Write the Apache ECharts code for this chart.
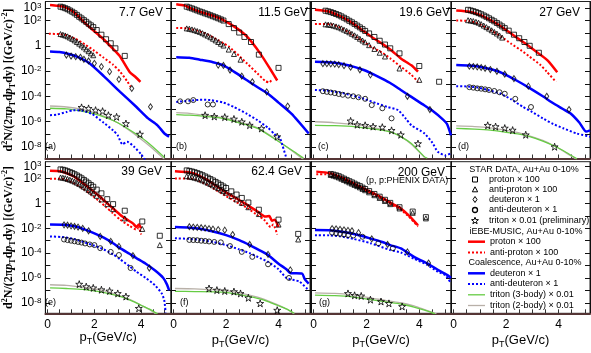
<!DOCTYPE html>
<html>
<head>
<meta charset="utf-8">
<script src="https://cdn.jsdelivr.net/npm/echarts@6.0.0/dist/echarts.min.js"></script>
<style>
  html, body { margin: 0; padding: 0; background: #fff; }
  #chart { width: 591px; height: 353px; }
</style>
</head>
<body>
<div id="chart"></div>
<script>
  // panels (a)..(g), one per collision energy
  const energies = ['7.7 GeV', '11.5 GeV', '19.6 GeV', '27 GeV', '39 GeV', '62.4 GeV', '200 GeV'];
  const panelTags = ['(a)', '(b)', '(c)', '(d)', '(e)', '(f)', '(g)'];
  const xLabelValues = [0, 2, 4];
  // y axis is logarithmic: every point below is [pT, log10(yield)]
  const yLabelExponents = [-8, -6, -4, -2, 0, 2, 3];

  // STAR data
  const protonData = [
    [[0.55,3.11],[0.65,3.06],[0.75,2.99],[0.85,2.91],[0.95,2.81],[1.05,2.71],[1.15,2.59],[1.25,2.46],[1.35,2.31],[1.45,2.18],[1.55,2.04],[1.65,1.91],[1.75,1.76],[1.85,1.63],[1.95,1.49],[2.1,1.26],[2.3,0.89],[2.5,0.53],[2.7,0.21],[2.9,-0.19],[3.3,-0.79]],
    [[0.5,3.11],[0.6,3.04],[0.7,2.97],[0.8,2.89],[0.9,2.81],[1.0,2.73],[1.1,2.66],[1.2,2.58],[1.3,2.51],[1.4,2.43],[1.5,2.35],[1.6,2.27],[1.7,2.19],[1.8,2.1],[1.9,2.01],[2.1,1.73],[2.3,1.41],[2.5,1.06],[2.7,0.71],[2.95,0.31],[3.25,-0.69],[4.0,-1.74]],
    [[0.45,2.79],[0.55,2.74],[0.65,2.68],[0.75,2.61],[0.85,2.53],[0.95,2.44],[1.05,2.34],[1.15,2.23],[1.25,2.11],[1.35,1.99],[1.45,1.87],[1.55,1.74],[1.65,1.61],[1.75,1.47],[1.85,1.33],[1.95,1.19],[2.1,0.99],[2.3,0.71],[2.5,0.41],[2.7,0.11],[2.9,-0.19],[3.25,-0.59],[4.0,-1.59],[4.75,-2.84]],
    [[0.55,2.86],[0.65,2.81],[0.75,2.75],[0.85,2.68],[0.95,2.6],[1.05,2.51],[1.15,2.41],[1.25,2.31],[1.35,2.19],[1.45,2.07],[1.55,1.95],[1.65,1.82],[1.75,1.69],[1.85,1.55],[1.95,1.41],[2.1,1.21],[2.3,0.89],[2.5,0.61],[2.7,0.31],[2.9,0.01],[3.25,-0.54]],
    [[0.55,2.75],[0.65,2.72],[0.75,2.67],[0.85,2.6],[0.95,2.53],[1.05,2.45],[1.15,2.36],[1.25,2.26],[1.35,2.15],[1.45,2.03],[1.55,1.9],[1.65,1.77],[1.75,1.63],[1.85,1.49],[1.95,1.35],[2.1,1.12],[2.3,0.82],[2.55,0.35],[2.8,-0.05],[3.3,-0.58],[4.05,-1.45],[4.8,-2.6]],
    [[0.5,2.67],[0.6,2.63],[0.7,2.58],[0.8,2.52],[0.9,2.45],[1.0,2.37],[1.1,2.28],[1.2,2.18],[1.3,2.08],[1.4,1.97],[1.5,1.86],[1.6,1.74],[1.7,1.62],[1.8,1.5],[1.9,1.37],[2.0,1.25],[2.2,0.98],[2.4,0.72],[2.6,0.45],[2.85,0.08],[3.25,-0.5],[4.0,-1.3],[4.75,-2.45]],
    [[0.65,2.38],[0.75,2.33],[0.85,2.27],[0.95,2.2],[1.05,2.1],[1.15,2.0],[1.25,1.9],[1.35,1.8],[1.45,1.7],[1.55,1.6],[1.65,1.5],[1.75,1.4],[1.85,1.28],[1.95,1.17],[2.1,1.0],[2.3,0.77],[2.5,0.55],[2.7,0.3],[2.9,0.05],[3.25,-0.3],[3.75,-0.65],[4.25,-1.1]]
  ];
  const antiProtonData = [
    [[0.55,0.94],[0.65,0.89],[0.75,0.83],[0.85,0.76],[0.95,0.66],[1.05,0.56],[1.15,0.44],[1.25,0.31],[1.35,0.18],[1.45,0.04],[1.55,-0.11],[1.65,-0.27],[1.75,-0.42],[1.85,-0.59],[1.95,-0.74]],
    [[0.5,1.39],[0.6,1.36],[0.7,1.31],[0.8,1.25],[0.9,1.18],[1.0,1.11],[1.1,1.01],[1.2,0.91],[1.3,0.81],[1.4,0.69],[1.5,0.57],[1.6,0.44],[1.7,0.31],[1.8,0.17],[1.9,0.03],[2.1,-0.29],[2.3,-0.64],[2.55,-1.09]],
    [[0.45,1.71],[0.55,1.69],[0.65,1.66],[0.75,1.61],[0.85,1.55],[0.95,1.48],[1.05,1.39],[1.15,1.29],[1.25,1.19],[1.35,1.08],[1.45,0.96],[1.55,0.84],[1.65,0.71],[1.75,0.57],[1.85,0.43],[1.95,0.29],[2.1,0.06],[2.3,-0.24],[2.5,-0.54],[2.7,-0.84],[3.25,-1.79],[4.0,-2.69]],
    [[0.55,2.04],[0.65,2.01],[0.75,1.97],[0.85,1.91],[0.95,1.84],[1.05,1.73],[1.15,1.61],[1.25,1.49],[1.35,1.37],[1.45,1.24],[1.55,1.11],[1.65,0.98],[1.75,0.83],[1.85,0.66]],
    [[0.55,2.1],[0.65,2.08],[0.75,2.04],[0.85,1.98],[0.95,1.92],[1.05,1.85],[1.15,1.77],[1.25,1.68],[1.35,1.58],[1.45,1.47],[1.55,1.35],[1.65,1.23],[1.75,1.1],[1.85,0.97],[1.95,0.83],[2.1,0.62],[2.3,0.33],[2.55,-0.05],[2.8,-0.45],[3.3,-1.2],[4.05,-2.05],[4.8,-3.35]],
    [[0.5,2.2],[0.6,2.17],[0.7,2.13],[0.8,2.08],[0.9,2.02],[1.0,1.95],[1.1,1.87],[1.2,1.78],[1.3,1.68],[1.4,1.58],[1.5,1.47],[1.6,1.36],[1.7,1.24],[1.8,1.12],[1.9,1.0],[2.0,0.87],[2.2,0.6],[2.4,0.33],[2.6,0.05],[2.85,-0.3],[3.25,-0.85],[4.0,-1.7],[4.75,-2.9]],
    [[0.65,2.3],[0.75,2.25],[0.85,2.18],[0.95,2.1],[1.05,2.0],[1.15,1.9],[1.25,1.8],[1.35,1.7],[1.45,1.6],[1.55,1.5],[1.65,1.4],[1.75,1.3],[1.85,1.18],[1.95,1.07],[2.1,0.9],[2.3,0.67],[2.5,0.45],[2.7,0.2],[2.9,-0.05],[3.25,-0.4],[3.75,-0.75],[4.25,-1.2]]
  ];
  const deuteronData = [
    [[0.8,-0.72],[1.0,-0.8],[1.2,-0.85],[1.4,-0.9],[1.55,-1.06],[1.75,-1.19],[2.0,-1.38],[2.3,-1.64],[2.65,-2.04],[3.05,-2.65],[3.6,-3.37],[4.4,-4.82]],
    [[1.7,-1.52],[1.9,-1.55],[2.15,-1.91],[2.6,-2.39],[3.0,-2.84],[3.55,-3.64],[4.35,-4.77]],
    [[0.35,-1.41],[0.5,-1.41],[0.65,-1.42],[0.8,-1.44],[0.95,-1.49],[1.15,-1.57],[1.4,-1.69],[1.75,-1.89],[2.15,-2.29],[3.55,-3.99],[4.4,-5.04]],
    [[0.6,-1.61],[0.75,-1.63],[0.9,-1.66],[1.05,-1.71],[1.2,-1.77],[1.4,-1.87],[1.65,-2.01],[1.95,-2.24],[2.3,-2.59],[2.85,-3.19],[3.55,-3.99],[4.4,-5.04]],
    [[0.7,-1.72],[0.85,-1.75],[1.0,-1.8],[1.15,-1.85],[1.3,-1.9],[1.5,-2.0],[1.75,-2.2],[2.25,-2.65],[2.7,-3.05],[3.05,-3.45],[3.65,-4.2],[4.35,-5.2]],
    [[0.6,-1.87],[0.75,-1.9],[0.9,-1.92],[1.05,-1.95],[1.2,-1.98],[1.35,-2.02],[1.5,-2.06],[1.7,-2.1],[1.95,-2.15],[2.25,-2.5],[2.9,-3.3],[3.6,-4.1],[4.45,-5.35]],
    [[0.7,-2.02],[0.85,-2.04],[1.0,-2.08],[1.15,-2.12],[1.3,-2.17],[1.45,-2.2],[1.7,-2.35],[2.2,-2.85],[2.8,-3.3],[3.55,-3.9],[4.35,-4.8]]
  ];
  const antiDeuteronData = [
    [],
    [[0.25,-4.39],[0.55,-4.39],[0.75,-4.29],[1.3,-4.64],[1.5,-4.64]],
    [[0.35,-3.59],[0.5,-3.64],[0.65,-3.69],[0.8,-3.74],[0.95,-3.81],[1.1,-3.87],[1.3,-3.94],[1.5,-3.99],[1.7,-4.07],[1.95,-4.19],[2.2,-4.69],[2.6,-4.94],[2.95,-5.74]],
    [[0.6,-3.27],[0.75,-3.31],[0.9,-3.36],[1.05,-3.39],[1.2,-3.44],[1.35,-3.49],[1.55,-3.57],[1.75,-3.67],[1.95,-3.79],[2.35,-4.19],[2.95,-4.84]],
    [[0.7,-2.9],[0.85,-2.95],[1.0,-3.0],[1.15,-3.05],[1.3,-3.1],[1.45,-3.15],[1.6,-3.22],[1.8,-3.3],[2.0,-3.35],[2.25,-3.6],[2.7,-3.9],[3.05,-4.15],[3.55,-5.2]],
    [[0.6,-2.94],[0.75,-2.95],[0.9,-2.96],[1.05,-3.0],[1.2,-3.02],[1.35,-3.06],[1.55,-3.1],[1.8,-3.13],[2.15,-3.43],[2.6,-3.9],[3.0,-4.3],[3.6,-4.9],[4.4,-6.0]],
    [[0.7,-2.35],[0.85,-2.4],[1.0,-2.45],[1.15,-2.5],[1.3,-2.55],[1.5,-2.58],[1.85,-2.68],[2.45,-3.2],[3.0,-3.6]]
  ];
  const tritonData = [
    [[1.45,-4.87],[1.75,-4.95],[2.05,-5.09],[2.35,-5.17],[2.6,-5.49],[2.95,-5.62],[3.35,-6.15],[3.95,-6.99]],
    [[1.2,-5.49],[1.55,-5.59],[1.95,-5.64],[2.3,-5.79],[2.6,-6.01],[2.9,-6.28],[3.35,-6.54],[3.95,-7.19]],
    [[1.4,-5.94],[1.65,-6.24],[1.95,-6.29],[2.25,-6.39],[2.6,-6.44],[2.95,-6.69],[3.3,-7.04],[3.95,-7.74]],
    [[1.3,-6.29],[1.6,-6.39],[1.95,-6.51],[2.25,-6.67],[2.75,-7.04],[3.85,-7.99]],
    [[1.35,-6.5],[1.65,-6.7],[1.95,-6.8],[2.3,-6.95],[2.65,-7.05],[3.0,-7.25],[3.35,-7.5],[3.9,-8.45]],
    [[1.35,-6.85],[1.65,-6.98],[1.95,-7.05],[2.3,-7.1],[2.55,-7.25],[2.85,-7.6],[3.3,-8.05],[3.95,-8.6]],
    [[1.3,-7.25],[1.55,-7.4],[1.8,-7.45],[2.15,-7.75],[2.55,-7.9],[2.85,-8.05],[3.35,-8.3]]
  ];

  // iEBE-MUSIC + coalescence curves
  const protonModel = [
    [[0.1,3.24],[0.4,3.18],[0.75,3.06],[1.1,2.71],[1.6,1.81],[2.0,1.16],[2.4,0.51],[2.8,-0.24],[3.1,-0.84],[3.5,-2.04],[3.75,-2.44],[3.97,-2.84]],
    [[0.1,3.31],[0.4,3.21],[0.65,2.98],[1.0,2.71],[1.5,2.39],[1.9,2.05],[2.4,1.41],[2.8,0.73],[3.3,-0.59],[3.7,-1.89],[3.95,-2.74]],
    [[0.05,2.86],[0.6,2.71],[1.0,2.36],[1.4,1.91],[1.8,1.31],[2.2,0.71],[2.6,0.16],[2.9,-0.29],[3.3,-0.99],[3.7,-1.54],[3.95,-2.04]],
    [[0.1,2.81],[0.6,2.71],[1.0,2.46],[1.4,2.05],[1.8,1.56],[2.2,0.96],[2.6,0.38],[2.9,-0.06],[3.3,-0.69],[3.6,-1.19],[3.95,-2.09]],
    [[0.1,2.65],[0.55,2.6],[1.1,2.2],[1.5,1.65],[1.8,1.22],[2.2,0.6],[2.5,0.1],[2.8,-0.4],[3.1,-0.9],[3.4,-1.3],[3.65,-1.6],[3.8,-1.9],[3.9,-1.7],[4.0,-2.0]],
    [[0.05,2.6],[0.7,2.47],[1.25,1.95],[1.6,1.45],[2.0,0.9],[2.4,0.4],[2.8,-0.1],[3.2,-0.65],[3.5,-1.05],[3.65,-1.0],[3.75,-1.4],[3.85,-1.3],[4.0,-1.9]],
    [[0.1,2.57],[0.6,2.45],[1.0,2.15],[1.4,1.75],[1.8,1.3],[2.2,0.9],[2.6,0.45],[3.0,-0.05],[3.3,-0.4],[3.6,-0.95],[3.95,-1.75]]
  ];
  const antiProtonModel = [
    [[0.05,0.96],[0.5,0.94],[0.8,0.86],[1.2,0.56],[1.6,0.11],[2.0,-0.39],[2.4,-0.94],[2.8,-1.49],[3.1,-2.04],[3.4,-2.79],[3.55,-3.24]],
    [[0.1,1.43],[0.5,1.39],[0.9,1.21],[1.3,0.91],[1.7,0.46],[1.9,0.21],[2.1,-0.04],[2.5,-0.79],[2.8,-1.39],[3.2,-2.19],[3.5,-2.79],[3.65,-2.89],[3.75,-2.64]],
    [[0.05,1.74],[0.6,1.73],[1.0,1.46],[1.4,0.99],[1.8,0.46],[2.2,-0.09],[2.6,-0.54],[2.9,-0.99],[3.3,-1.64],[3.7,-2.29],[3.95,-2.84]],
    [[0.1,2.01],[0.6,1.97],[1.0,1.71],[1.4,1.26],[1.8,0.76],[2.2,0.16],[2.6,-0.39],[2.9,-0.86],[3.3,-1.49],[3.55,-2.04],[3.9,-2.84]],
    [[0.1,2.0],[0.55,2.0],[1.1,1.65],[1.5,1.2],[1.8,0.8],[2.2,0.2],[2.5,-0.3],[2.8,-0.8],[3.1,-1.3],[3.5,-1.8],[3.8,-2.1],[3.9,-1.95],[4.0,-2.5]],
    [[0.05,2.02],[0.7,2.0],[1.25,1.55],[1.6,1.1],[2.0,0.6],[2.4,0.1],[2.8,-0.35],[3.2,-0.95],[3.45,-1.3],[3.7,-1.9],[3.8,-1.7],[3.95,-2.5]],
    [[0.1,2.35],[0.6,2.35],[1.0,2.05],[1.4,1.65],[1.8,1.2],[2.2,0.8],[2.6,0.35],[3.0,-0.15],[3.3,-0.5],[3.6,-1.05],[3.95,-1.85]]
  ];
  const deuteronModel = [
    [[0.1,-0.44],[0.5,-0.49],[0.9,-0.64],[1.3,-0.89],[1.8,-1.39],[2.4,-2.39],[3.1,-3.64],[3.8,-4.84],[4.3,-5.74],[4.7,-6.29],[5.0,-6.94],[5.2,-7.19]],
    [[0.1,-0.89],[0.6,-0.94],[1.0,-1.09],[1.5,-1.29],[1.9,-1.54],[2.3,-2.04],[2.7,-2.59],[3.1,-3.14],[3.6,-3.79],[4.0,-4.49],[4.5,-5.39],[5.15,-6.94]],
    [[0.05,-1.26],[0.5,-1.29],[1.0,-1.39],[1.5,-1.64],[1.9,-1.91],[2.4,-2.39],[2.9,-2.94],[3.3,-3.49],[3.7,-4.04],[4.1,-4.59],[4.5,-5.14],[4.9,-5.84],[5.05,-6.19],[5.2,-7.09]],
    [[0.1,-1.51],[0.6,-1.55],[1.0,-1.65],[1.5,-1.89],[1.9,-2.19],[2.4,-2.74],[2.9,-3.34],[3.4,-3.99],[3.8,-4.54],[4.2,-5.04],[4.45,-5.34],[4.8,-6.09],[5.05,-6.79],[5.2,-6.69]],
    [[0.1,-1.7],[0.7,-1.72],[1.2,-1.85],[1.6,-2.1],[2.0,-2.4],[2.4,-2.75],[2.8,-3.2],[3.1,-3.6],[3.5,-4.05],[3.8,-4.4],[4.2,-4.85],[4.6,-5.4],[4.95,-6.0],[5.1,-6.5],[5.2,-7.0]],
    [[0.05,-1.9],[0.6,-1.95],[1.0,-2.03],[1.5,-2.25],[2.0,-2.55],[2.5,-2.95],[2.9,-3.35],[3.3,-3.8],[3.6,-4.15],[4.0,-4.85],[4.3,-5.3],[4.45,-5.6],[4.9,-5.65],[5.0,-6.1],[5.15,-6.45]],
    [[0.05,-2.14],[0.6,-2.15],[1.0,-2.25],[1.4,-2.4],[1.8,-2.6],[2.2,-2.85],[2.6,-3.1],[2.9,-3.35],[3.3,-3.62],[3.8,-4.3],[4.3,-4.82],[4.7,-5.35],[5.05,-5.75],[5.2,-6.0]]
  ];
  const antiDeuteronModel = [
    [[0.1,-5.49],[0.4,-5.44],[0.8,-5.24],[1.1,-5.09],[1.5,-5.14],[1.9,-5.39],[2.4,-6.09],[2.8,-6.69],[3.0,-7.09],[3.2,-7.79],[3.4,-7.59],[3.7,-7.99],[4.0,-8.59],[4.2,-9.09]],
    [[0.1,-4.44],[0.6,-4.34],[1.0,-4.27],[1.4,-4.29],[1.9,-4.49],[2.3,-4.84],[2.8,-5.39],[3.2,-5.89],[3.6,-6.49],[3.85,-6.99],[4.05,-7.29],[4.15,-7.89],[4.3,-8.89]],
    [[0.05,-3.49],[0.5,-3.54],[1.0,-3.69],[1.4,-3.89],[1.9,-4.19],[2.4,-4.56],[2.8,-4.84],[3.2,-5.09],[3.5,-5.79],[3.7,-6.29],[4.2,-6.94],[4.5,-7.69],[4.7,-8.39],[5.0,-8.69],[5.2,-8.49]],
    [[0.1,-3.19],[0.5,-3.21],[0.9,-3.29],[1.3,-3.49],[1.8,-3.79],[2.2,-4.24],[2.65,-4.84],[3.0,-5.24],[3.4,-5.74],[3.8,-6.19],[4.2,-6.54],[4.7,-6.94],[5.2,-7.19]],
    [[0.1,-2.65],[0.6,-2.7],[1.1,-2.85],[1.6,-3.15],[2.0,-3.4],[2.4,-3.7],[2.8,-4.1],[3.1,-4.5],[3.5,-5.05],[3.8,-5.5],[4.2,-6.0],[4.6,-6.6],[4.9,-7.3],[5.0,-7.9],[5.05,-8.8]],
    [[0.05,-2.8],[0.6,-2.85],[1.0,-2.93],[1.5,-3.1],[2.0,-3.35],[2.5,-3.7],[2.9,-4.0],[3.3,-4.4],[3.6,-4.7],[4.0,-5.3],[4.3,-6.0],[4.8,-6.3],[5.15,-7.0]],
    [[0.05,-2.55],[0.6,-2.57],[1.0,-2.65],[1.5,-2.85],[2.15,-3.2],[2.9,-3.75],[3.3,-3.95],[3.8,-4.45],[4.3,-4.95],[4.7,-5.5],[5.0,-5.8],[5.2,-6.45]]
  ];
  const triton3Model = [
    [[0.1,-4.94],[0.8,-4.99],[1.5,-5.19],[2.0,-5.39],[2.5,-5.69],[3.0,-6.09],[3.5,-6.64],[4.0,-7.24],[4.5,-7.99],[5.0,-8.84]],
    [[0.1,-5.44],[0.6,-5.49],[1.2,-5.59],[1.9,-5.75],[2.5,-6.09],[3.2,-6.54],[3.9,-7.44],[4.6,-8.39],[4.95,-8.89]],
    [[0.05,-6.29],[0.8,-6.32],[1.6,-6.41],[2.3,-6.59],[2.9,-6.81],[3.3,-7.19],[3.7,-7.74],[4.2,-8.79],[4.3,-8.89]],
    [[0.1,-6.54],[0.8,-6.59],[1.4,-6.67],[2.0,-6.84],[2.5,-6.99],[2.9,-7.19],[3.4,-7.54],[3.9,-7.99],[4.3,-8.44],[4.7,-8.94]],
    [[0.1,-6.8],[0.8,-6.85],[1.5,-6.92],[2.2,-7.1],[2.8,-7.35],[3.2,-7.55],[3.6,-7.85],[4.0,-8.2],[4.4,-8.55],[4.7,-8.9]],
    [[0.05,-7.08],[0.8,-7.1],[1.9,-7.15],[2.5,-7.35],[3.2,-7.65],[3.6,-7.9],[3.95,-8.2],[4.3,-8.5],[4.6,-8.85]],
    [[0.05,-7.38],[0.8,-7.42],[1.4,-7.5],[2.15,-7.75],[2.8,-7.95],[3.3,-8.1],[3.8,-8.35],[4.2,-8.6],[4.6,-8.9]]
  ];
  const triton2Model = [
    [[0.1,-4.76],[0.8,-4.84],[1.5,-5.04],[2.0,-5.29],[2.5,-5.64],[3.0,-6.09],[3.5,-6.69],[4.0,-7.39],[4.5,-8.14],[5.0,-8.99]],
    [[0.1,-5.29],[0.6,-5.34],[1.2,-5.49],[1.9,-5.69],[2.5,-5.99],[3.2,-6.49],[3.9,-7.39],[4.6,-8.44],[4.95,-8.99]],
    [[0.05,-6.01],[0.8,-6.09],[1.6,-6.24],[2.3,-6.49],[2.9,-6.79],[3.3,-7.19],[3.7,-7.79],[4.2,-8.84]],
    [[0.1,-6.34],[0.8,-6.39],[1.4,-6.49],[2.0,-6.69],[2.5,-6.89],[2.9,-7.14],[3.4,-7.49],[3.9,-7.99],[4.3,-8.49],[4.7,-8.99]],
    [[0.1,-6.55],[0.8,-6.6],[1.5,-6.75],[2.2,-6.95],[2.8,-7.25],[3.2,-7.5],[3.6,-7.8],[4.0,-8.2],[4.4,-8.6],[4.7,-9.0]],
    [[0.05,-6.85],[0.8,-6.88],[1.9,-7.0],[2.5,-7.2],[3.2,-7.55],[3.6,-7.85],[3.95,-8.15],[4.3,-8.5],[4.6,-8.9]],
    [[0.05,-7.2],[0.8,-7.25],[1.4,-7.35],[2.15,-7.6],[2.8,-7.85],[3.3,-8.0],[3.8,-8.25],[4.2,-8.55],[4.65,-8.9]]
  ];

  const SANS = 'Liberation Sans, Arial, Helvetica, sans-serif';
  const SERIF = 'Liberation Serif, Times New Roman, serif';
  const RED = '#ff0000', BLUE = '#0000ff', GREEN = '#66cc44', GREY = '#b8b0a8';
  const STAR = 'path://M5,0 L6.2,3.6 L10,3.6 L6.9,5.9 L8.1,9.5 L5,7.3 L1.9,9.5 L3.1,5.9 L0,3.6 L3.8,3.6 Z';

  // pad layout
  const cols = [
    {left: 37, width: 134, xMax: 5.28},
    {left: 171, width: 139, xMax: 5.2},
    {left: 311, width: 140, xMax: 5.2},
    {left: 451, width: 139, xMax: 5.2}
  ];
  const rows = [
    {top: 1.5, height: 157, yMin: -8.92, yMax: 3.52},
    {top: 161.7, height: 151.6, yMin: -8.85, yMax: 3.37}
  ];

  const xTicks = [];
  for (let v = 0; v <= 5; v += 0.5) xTicks.push(v);

  const expRich = {
    b: {fontSize: 12, fontFamily: SANS, color: '#000', lineHeight: 12},
    s: {fontSize: 8, fontFamily: SANS, color: '#000', verticalAlign: 'top', lineHeight: 7}
  };
  const expLabel = v => (v === 0 ? '{b|1}' : '{b|10}{s|' + v + '}');

  const yTitle = '{t|d}{sup|2}{t|N/(2π}{i|p}{sub|T}{t|d}{i|p}{sub|T}{t|dy) [(GeV/}{i|c}{t|)}{sup|-2}{t|]}';
  const yTitleRich = {
    t: {fontSize: 12, fontFamily: SERIF, fontWeight: 'bold', color: '#000', lineHeight: 16},
    i: {fontSize: 12, fontFamily: SERIF, fontWeight: 'bold', fontStyle: 'italic', color: '#000', lineHeight: 16},
    sup: {fontSize: 8, fontFamily: SERIF, fontWeight: 'bold', color: '#000', verticalAlign: 'top', lineHeight: 8},
    sub: {fontSize: 8, fontFamily: SERIF, fontWeight: 'bold', color: '#000', verticalAlign: 'bottom', lineHeight: 8}
  };
  const xTitle = '{a|p}{s|T}{a|(GeV/c)}';
  const xTitleRich = {
    a: {fontSize: 13, fontFamily: SANS, color: '#000', lineHeight: 17},
    s: {fontSize: 9, fontFamily: SANS, color: '#000', verticalAlign: 'bottom', lineHeight: 9}
  };

  const grid = [], xAxis = [], yAxis = [], series = [];

  for (let i = 0; i < 8; i++) {
    const r = rows[i < 4 ? 0 : 1];
    const c = cols[i % 4];
    const bottomRow = i >= 4;
    const yTicks = [];
    for (let e = Math.ceil(r.yMin); e <= Math.floor(r.yMax); e++) yTicks.push(e);

    grid.push({
      left: c.left, top: r.top, width: c.width, height: r.height,
      show: true, borderColor: '#222', borderWidth: 1, backgroundColor: 'transparent'
    });
    xAxis.push({
      gridIndex: i, type: 'value', min: -0.1, max: c.xMax,
      splitLine: {show: false},
      axisLine: {show: true, onZero: false, lineStyle: {color: '#553535', width: 2}},
      axisTick: {show: true, inside: true, length: 4, customValues: xTicks, lineStyle: {color: '#333'}},
      axisLabel: {show: bottomRow, customValues: xLabelValues, margin: 5, fontSize: 12, fontFamily: SANS, color: '#000'},
      name: bottomRow ? xTitle : '',
      nameLocation: 'middle',
      nameGap: i === 4 ? 14 : 19,
      nameTextStyle: {rich: xTitleRich}
    });
    ['left', 'right'].forEach(pos => {
      const labelled = pos === 'left' && i % 4 === 0;
      yAxis.push({
        gridIndex: i, type: 'value', position: pos, min: r.yMin, max: r.yMax,
        splitLine: {show: false},
        axisLine: {show: true, onZero: false, lineStyle: {color: '#111'}},
        axisTick: {show: true, inside: true, length: 5, customValues: yTicks, lineStyle: {color: '#111'}},
        axisLabel: {
          show: labelled, customValues: yLabelExponents, formatter: expLabel, margin: 4,
          showMinLabel: true, showMaxLabel: true, hideOverlap: false, rich: expRich
        },
        name: labelled ? yTitle : '',
        nameLocation: 'middle',
        nameRotate: 90,
        nameGap: 21,
        nameTextStyle: {rich: yTitleRich}
      });
    });
  }

  function curve(p, name, data, color, width, dash) {
    return {
      type: 'line', name, xAxisIndex: p, yAxisIndex: 2 * p, data,
      symbol: 'none', showSymbol: false, smooth: 0.2, clip: true, silent: true, z: 2,
      lineStyle: {color, width, type: dash || 'solid'}
    };
  }
  function points(p, name, data, symbol, size) {
    return {
      type: 'scatter', name, xAxisIndex: p, yAxisIndex: 2 * p, data,
      symbol, symbolSize: size, clip: true, silent: true, z: 4,
      itemStyle: {color: 'rgba(0,0,0,0)', borderColor: '#000', borderWidth: 1}
    };
  }

  energies.forEach((en, p) => {
    series.push(
      curve(p, 'triton (2-body) × 0.01', triton2Model[p], GREY, 1.3),
      curve(p, 'triton (3-body) × 0.01', triton3Model[p], GREEN, 1.3),
      curve(p, 'anti-deuteron × 1 model', antiDeuteronModel[p], BLUE, 2, [2, 2]),
      curve(p, 'deuteron × 1 model', deuteronModel[p], BLUE, 2.5),
      curve(p, 'anti-proton × 100 model', antiProtonModel[p], RED, 2, [2, 2]),
      curve(p, 'proton × 100 model', protonModel[p], RED, 2.5),
      points(p, 'proton × 100', protonData[p], 'rect', 5),
      points(p, 'anti-proton × 100', antiProtonData[p], 'triangle', 5),
      points(p, 'deuteron × 1', deuteronData[p], 'diamond', [4, 6]),
      points(p, 'anti-deuteron × 1', antiDeuteronData[p], 'circle', 5),
      points(p, 'triton × 0.01 (preliminary)', tritonData[p], STAR, 7)
    );
  });

  // annotations
  const graphic = [];
  const txt = (text, x, y, size, align, extra) => ({
    type: 'text', x, y, z: 20, silent: true,
    style: Object.assign({text, fontSize: size, fontFamily: SANS, fill: '#000', align: align || 'left', verticalAlign: 'middle'}, extra || {})
  });
  const energyPos = [[163, 13], [308, 13], [450, 13], [580, 13], [162, 172], [302, 172], [445, 173]];
  energies.forEach((en, p) => graphic.push(txt(en, energyPos[p][0], energyPos[p][1], 12, 'right')));
  const tagPos = [[45, 147], [176, 147], [318, 147], [458, 147], [45, 303], [180, 303], [319, 303]];
  panelTags.forEach((t, p) => graphic.push(txt(t, tagPos[p][0], tagPos[p][1], 9)));
  graphic.push(txt('(p, p\u0304:PHENIX DATA)', 366, 181, 9));

  // legend in the last pad
  const mx = 475, tx = 489, lx1 = 468, lx2 = 485, ltx = 490;
  graphic.push(txt('STAR DATA, Au+Au 0-10%', 524, 170, 9, 'center'));
  const open = {fill: 'none', stroke: '#000', lineWidth: 1};
  const starPts = (cx, cy, rr) => {
    const pts = [];
    for (let k = 0; k < 10; k++) {
      const a = -Math.PI / 2 + k * Math.PI / 5;
      const d = k % 2 ? rr * 0.42 : rr;
      pts.push([cx + d * Math.cos(a), cy + d * Math.sin(a)]);
    }
    return pts;
  };
  graphic.push(
    {type: 'rect', shape: {x: mx - 2.5, y: 179.5 - 2.5, width: 5, height: 5}, style: open, z: 20},
    {type: 'polygon', shape: {points: [[mx, 186.8], [mx + 2.7, 191.8], [mx - 2.7, 191.8]]}, style: open, z: 20},
    {type: 'polygon', shape: {points: [[mx, 196.5], [mx + 2, 199.5], [mx, 202.5], [mx - 2, 199.5]]}, style: open, z: 20},
    {type: 'circle', shape: {cx: mx, cy: 210, r: 2.5}, style: Object.assign({}, open, {lineWidth: 1.3}), z: 20},
    {type: 'polygon', shape: {points: starPts(mx, 220.8, 3.6)}, style: open, z: 20}
  );
  [['proton × 100', 179.5], ['anti-proton × 100', 189.5], ['deuteron × 1', 199.5],
   ['anti-deuteron × 1', 210], ['triton × 0.01 (preliminary)', 220.7]]
    .forEach(([t, y]) => graphic.push(txt(t, tx, y, 9)));

  graphic.push(txt('iEBE-MUSIC, Au+Au 0-10%', 526, 231.5, 9, 'center'));
  graphic.push(txt('Coalescence, Au+Au 0-10%', 525, 262.5, 9, 'center'));
  [['proton × 100', 241.7, RED, 2.5, null],
   ['anti-proton × 100', 252.5, RED, 2, [2, 2]],
   ['deuteron × 1', 273.3, BLUE, 2.5, null],
   ['anti-deuteron × 1', 284, BLUE, 2, [2, 2]],
   ['triton (3-body) × 0.01', 294.8, GREEN, 1.3, null],
   ['triton (2-body) × 0.01', 305.5, GREY, 1.3, null]]
    .forEach(([t, y, color, w, dash]) => {
      graphic.push({type: 'line', shape: {x1: lx1, y1: y, x2: lx2, y2: y}, z: 20,
        style: {stroke: color, lineWidth: w, lineDash: dash}});
      graphic.push(txt(t, ltx, y, 9));
    });

  const chart = echarts.init(document.getElementById('chart'), null, {renderer: 'canvas'});
  chart.setOption({
    animation: false,
    backgroundColor: '#fff',
    grid, xAxis, yAxis, series, graphic
  });
  window.addEventListener('resize', function () {
    chart.resize();
  });
</script>
</body>
</html>
